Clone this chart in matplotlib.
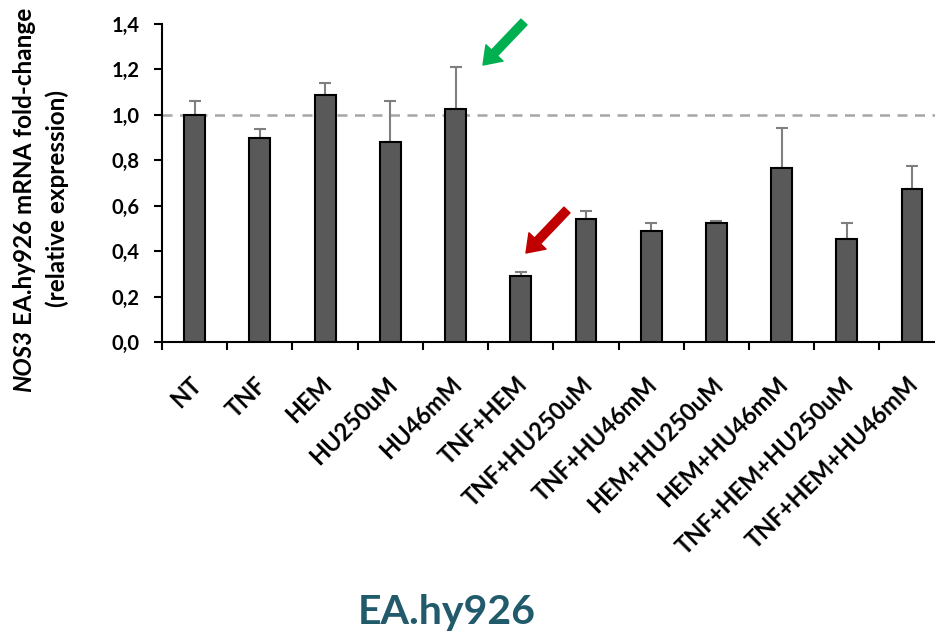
import matplotlib
matplotlib.use('Agg')
import matplotlib.pyplot as plt
import matplotlib.transforms as mtransforms
import numpy as np

# NOS3 fold-change per treatment
labels = ['NT', 'TNF', 'HEM', 'HU250uM', 'HU46mM', 'TNF+HEM', 'TNF+HU250uM',
          'TNF+HU46mM', 'HEM+HU250uM', 'HEM+HU46mM', 'TNF+HEM+HU250uM', 'TNF+HEM+HU46mM']
values = [1.00, 0.90, 1.087, 0.88, 1.025, 0.291, 0.542, 0.489, 0.526, 0.765, 0.452, 0.675]
err_up = [0.06, 0.037, 0.053, 0.18, 0.185, 0.016, 0.035, 0.035, 0.008, 0.179, 0.072, 0.10]
yticks = [0.0, 0.2, 0.4, 0.6, 0.8, 1.0, 1.2, 1.4]

plt.rcParams['font.family'] = ['Lato', 'DejaVu Sans']
plt.rcParams['font.weight'] = 'bold'

fig = plt.figure(figsize=(9.35, 6.39), dpi=100)
ax = fig.add_axes([0.1733, 0.4648, 0.837, 0.4977])

x = np.arange(len(labels))
ax.bar(x, values, width=0.32, color='#595959', edgecolor='black', linewidth=1.5, zorder=3)
ax.errorbar(x, values, yerr=[np.zeros(len(values)), err_up], fmt='none',
            ecolor='#7f7f7f', elinewidth=1.5, capsize=4.5, capthick=1.5, zorder=2)
ax.axhline(1.0, color='#a6a6a6', ls=(0, (4, 3)), lw=1.8, zorder=1)

ax.set_xlim(-0.5, len(labels) - 0.5)
ax.set_ylim(0, 1.4)
ax.set_yticks(yticks)
ax.set_yticklabels([('%.1f' % t).replace('.', ',') for t in yticks], fontsize=14.5, fontweight='bold')
ax.tick_params(axis='y', direction='out', length=6, width=1.5, pad=10)

ax.set_xticks(x)
ax.set_xticklabels(labels, rotation=45, ha='right', va='center', rotation_mode='anchor',
                   fontsize=17, fontweight='bold')
ax.tick_params(axis='x', which='major', length=0, pad=28)
ax.set_xticks(np.arange(-0.5, len(labels), 1), minor=True)
ax.tick_params(axis='x', which='minor', direction='out', length=6, width=1.5)
shift = mtransforms.ScaledTranslation(2 / 72, 0, fig.dpi_scale_trans)
for lab in ax.get_xticklabels():
    lab.set_transform(lab.get_transform() + shift)

for s in ['top', 'right']:
    ax.spines[s].set_visible(False)
for s in ['left', 'bottom']:
    ax.spines[s].set_linewidth(1.5)

# y label with italic gene name
t1 = fig.text(0.0257, 0.3865, 'NOS3', rotation=90, ha='center', va='bottom',
              fontsize=17.5, fontweight='bold', style='italic')
fig.canvas.draw()
bb = t1.get_window_extent()
t2 = fig.text(0.0257, (bb.y1 + 5) / fig.bbox.height, 'EA.hy926 mRNA fold-change', rotation=90,
              ha='center', va='bottom', fontsize=17.5, fontweight='bold')
fig.text(0.061, 0.69, '(relative expression)', rotation=90, ha='center', va='center',
         fontsize=17.5, fontweight='bold')

# arrows
ax.annotate('', xy=(483, 639 - 65), xycoords='figure pixels', xytext=(524, 639 - 22),
            textcoords='figure pixels',
            arrowprops=dict(facecolor='#00b050', edgecolor='#00b050', width=6, headwidth=17, headlength=12))
ax.annotate('', xy=(526, 639 - 253), xycoords='figure pixels', xytext=(567, 639 - 210),
            textcoords='figure pixels',
            arrowprops=dict(facecolor='#c00000', edgecolor='#c00000', width=6, headwidth=17, headlength=12))

fig.text(0.478, 0.042, 'EA.hy926', ha='center', va='center', fontsize=29.5,
         fontweight='bold', color='#215a6a')

fig.savefig('out.png', dpi=100)
